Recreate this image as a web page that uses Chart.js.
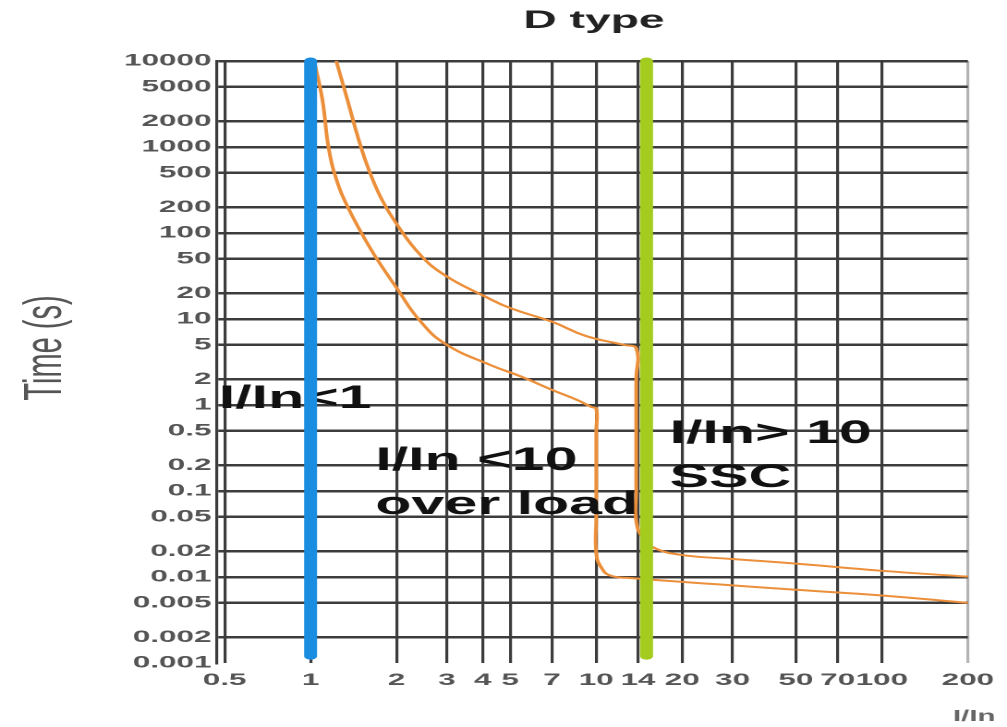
<!DOCTYPE html>
<html>
<head>
<meta charset="utf-8">
<script src="https://cdn.jsdelivr.net/npm/chart.js@4.4.0/dist/chart.umd.min.js"></script>
<style>
  html, body { margin: 0; padding: 0; background: #fff; overflow: hidden; }
  /* the source picture is a horizontally stretched screenshot, so the whole chart is drawn narrow and stretched */
  #wrap { position: absolute; left: 0; top: 0; width: 545px; height: 727px;
          transform: scaleX(1.84771); transform-origin: 0 0; }
</style>
</head>
<body>
<div id="wrap"><canvas id="chart" width="545" height="727"></canvas></div>
<script>
// ---- axis ticks ----
const xTicks = [0.5, 1, 2, 3, 4, 5, 7, 10, 14, 20, 30, 50, 70, 100, 200];
const xTickLabels = ["0.5", "1", "2", "3", "4", "5", "7", "10", "14", "20", "30", "50", "70", "100", "200"];
const yTicks = [0.001, 0.002, 0.005, 0.01, 0.02, 0.05, 0.1, 0.2, 0.5, 1, 2, 5, 10, 20, 50, 100, 200, 500, 1000, 2000, 5000, 10000];
const yTickLabels = ["0.001", "0.002", "0.005", "0.01", "0.02", "0.05", "0.1", "0.2", "0.5", "1", "2", "5",
                     "10", "20", "50", "100", "200", "500", "1000", "2000", "5000", "10000"];

// ---- tripping curves (I/In, seconds) ----
const upperX = [1.23, 1.35, 1.47, 1.6, 1.77, 1.98, 2.43, 2.98, 4.05, 5.0, 7.0, 9.2, 12.5, 13.8, 13.8, 13.8, 13.8,
                14.6, 16.1, 20, 30, 50, 100, 200];
const upperY = [10000, 3400, 1250, 540, 250, 134, 55, 31.6, 18.5, 13.4, 9.3, 6.35, 5.0, 4.6, 2, 0.1, 0.045,
                0.028, 0.0215, 0.018, 0.0162, 0.0143, 0.0118, 0.0101];
const lowerX = [1.03, 1.1, 1.16, 1.25, 1.35, 1.52, 1.7, 2.0, 2.43, 3.0, 4.28, 5.5, 7.0, 8.6, 9.6, 10, 10, 10, 10,
                10.4, 11.2, 13.3, 30, 50, 100, 200];
const lowerY = [10000, 3520, 920, 361, 200, 95, 51, 23, 9.3, 5.0, 2.9, 2.12, 1.5, 1.14, 0.95, 0.91, 0.5, 0.05, 0.019,
                0.013, 0.0104, 0.0097, 0.008, 0.0071, 0.0061, 0.005];

// ---- limit lines ----
const limitX = [1, 15];              // I/In = 1 (blue), short-circuit band (green)
const limitY = [0.0012, 10000];

// ---- annotations ----
const notes = [
  { lines: ["I/In<1"], x: 0.47, y: 0.92 },
  { lines: ["I/In <10", "over load"], x: 1.66, y: 0.175 },
  { lines: ["I/In> 10", "SSC"], x: 17.8, y: 0.36 }
];

const ORANGE = "#ec8f3a";
const BLUE = "#1b8de0";
const GREEN = "#a4cc1e";
const GRID = "#3c3c3c";
const TICK_FONT = { family: "'Liberation Sans', Arial, sans-serif", size: 17, weight: "bold" };

const pts = (xs, ys) => xs.map((x, i) => ({ x, y: ys[i] }));

const textPlugin = {
  id: "texts",
  beforeDatasetDraw(chart, args) {
    if (args.index !== 0) return;                       // text sits under the blue line, over the curves
    const { ctx, scales } = chart;
    ctx.save();
    ctx.fillStyle = "#111";
    ctx.font = "bold 32px 'Liberation Sans', Arial, sans-serif";
    ctx.textAlign = "left";
    ctx.textBaseline = "alphabetic";
    notes.forEach(n => {
      const px = scales.x.getPixelForValue(n.x) + 1;
      const py = scales.y.getPixelForValue(n.y);
      n.lines.forEach((t, i) => ctx.fillText(t, px, py + i * 44));
    });
    ctx.restore();
  },
  afterDraw(chart) {
    const { ctx, chartArea } = chart;
    ctx.save();
    // title
    ctx.fillStyle = "#222";
    ctx.font = "bold 25px 'Liberation Sans', Arial, sans-serif";
    ctx.textAlign = "center";
    ctx.textBaseline = "alphabetic";
    ctx.fillText("D type", 321.5, 28);
    // y title
    ctx.fillStyle = "#555";
    ctx.font = "29px 'Liberation Sans', Arial, sans-serif";
    ctx.translate(33, 348);
    ctx.rotate(-Math.PI / 2);
    ctx.fillText("Time (s)", 0, 0);
    ctx.restore();
    // x title
    ctx.save();
    ctx.fillStyle = "#666";
    ctx.font = "bold 16px 'Liberation Sans', Arial, sans-serif";
    ctx.textAlign = "right";
    ctx.fillText("I/In", chartArea.right + 15, 721);
    ctx.restore();
  }
};

new Chart(document.getElementById("chart").getContext("2d"), {
  type: "line",
  data: {
    datasets: [
      { label: "I/In=1", data: pts([limitX[0], limitX[0]], limitY), borderColor: BLUE, borderWidth: 7,
        borderCapStyle: "round", pointRadius: 0, clip: false },
      { label: "I/In=15", data: pts([limitX[1], limitX[1]], limitY), borderColor: GREEN, borderWidth: 7,
        borderCapStyle: "round", pointRadius: 0, clip: false },
      { label: "upper", data: pts(upperX, upperY), borderColor: ORANGE, borderWidth: 2,
        pointRadius: 0, tension: 0.45, clip: false },
      { label: "lower", data: pts(lowerX, lowerY), borderColor: ORANGE, borderWidth: 2,
        pointRadius: 0, tension: 0.45, clip: false }
    ]
  },
  options: {
    responsive: false,
    animation: false,
    devicePixelRatio: 2,
    layout: { padding: { left: 0, right: 17, top: 61, bottom: 0 } },
    plugins: { legend: { display: false }, tooltip: { enabled: false } },
    scales: {
      x: {
        type: "logarithmic",
        min: 0.47,
        max: 200,
        afterBuildTicks: s => { s.ticks = xTicks.map(v => ({ value: v })); },
        afterFit: s => { s.height = 64; },
        ticks: { autoSkip: false, maxRotation: 0, padding: 7, font: TICK_FONT, color: "#555",
                 callback: (v, i) => xTickLabels[i] },
        grid: { drawTicks: false, lineWidth: 1.6,
                color: c => (c.tick && c.tick.value === 200 ? "#b4b4b4" : GRID) },
        border: { display: false }
      },
      y: {
        type: "logarithmic",
        min: 0.001,
        max: 10000,
        afterBuildTicks: s => { s.ticks = yTicks.map(v => ({ value: v })); },
        afterFit: s => { s.width = 117.4; },
        ticks: { autoSkip: false, padding: 3, font: TICK_FONT, color: "#555",
                 callback: (v, i) => yTickLabels[i] },
        grid: { drawTicks: false, lineWidth: 2.5,
                color: c => (c.tick && c.tick.value === 0.001 ? "rgba(0,0,0,0)" : GRID) },
        border: { display: true, color: GRID, width: 1.6 }
      }
    }
  },
  plugins: [textPlugin]
});
</script>
</body>
</html>
